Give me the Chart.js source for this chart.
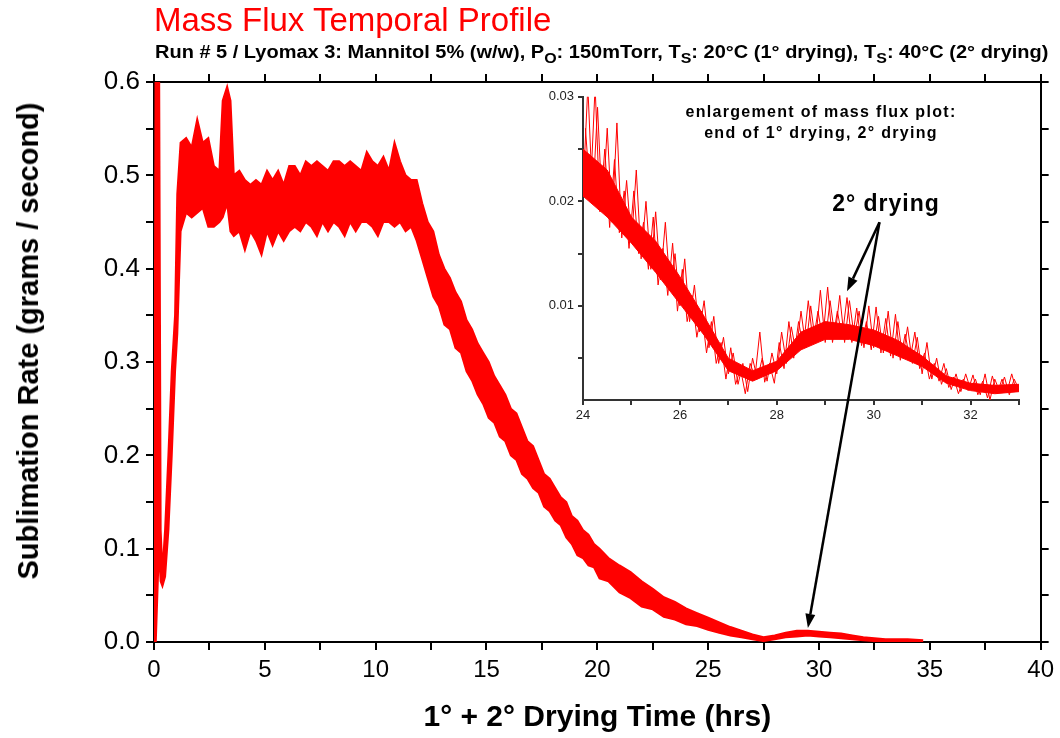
<!DOCTYPE html>
<html>
<head>
<meta charset="utf-8">
<script src="https://cdn.jsdelivr.net/npm/chart.js@4.4.1/dist/chart.umd.min.js"></script>
<style>
  body { margin: 0; background: #fff; }
  #wrap { position: relative; width: 1060px; height: 738px; overflow: hidden; font-family: 'Liberation Sans', Arial, sans-serif; }
  canvas { position: absolute; }
  #main { left: 0; top: 0; }
  #inset { left: 520px; top: 85px; }
  #overlay { left: 0; top: 0; pointer-events: none; }
  .txt { position: absolute; white-space: nowrap; color: #000; }
  #title { left: 154px; top: 3px; font-size: 33px; line-height: 34px; color: #ff0000; }
  #subtitle { left: 155px; top: 42px; font-size: 18px; line-height: 20px; font-weight: bold; transform-origin: 0 50%; }
  #subtitle sub { font-size: 80%; vertical-align: -0.35em; line-height: 0; }
  #ytitle { left: 28px; top: 341px; transform: translate(-50%, -50%) rotate(-90deg);
            font-size: 29px; line-height: 34px; font-weight: bold; }
  #note { left: 821px; top: 101px; transform: translateX(-50%); text-align: center;
          font-size: 16px; line-height: 21px; font-weight: bold; letter-spacing: 1.3px; }
  #drying { left: 886px; top: 189px; transform: translateX(-50%); font-size: 23px; line-height: 28px;
            font-weight: bold; letter-spacing: 1px; }
</style>
</head>
<body>
<div id="wrap">
  <canvas id="main" width="1060" height="738"></canvas>
  <canvas id="inset" width="510" height="340"></canvas>
  <canvas id="overlay" width="1060" height="738"></canvas>
  <div class="txt" id="title">Mass Flux Temporal Profile</div>
  <div class="txt" id="subtitle">Run # 5 / Lyomax 3: Mannitol 5% (w/w), P<sub>O</sub>: 150mTorr, T<sub>S</sub>: 20°C (1° drying), T<sub>S</sub>: 40°C (2° drying)</div>
  <div class="txt" id="ytitle">Sublimation Rate (grams / second)</div>
  <div class="txt" id="note">enlargement of mass flux plot:<br>end of 1° drying, 2° drying</div>
  <div class="txt" id="drying">2° drying</div>
</div>
<script>
// Données : bande de bruit (haut / bas) du flux massique
const mainTimes = [0, 0.08, 0.22, 0.3, 0.38, 0.5, 0.65, 0.8, 0.95, 1.05,
  1.2, 1.45, 1.7, 1.95, 2.2, 2.45, 2.7, 2.95, 3.1, 3.3,
  3.45, 3.6, 3.85, 4.1, 4.35, 4.6, 4.85, 5.1, 5.35, 5.6,
  5.85, 6.1, 6.35, 6.6, 6.85, 7.1, 7.35, 7.6, 7.85, 8.1,
  8.35, 8.6, 8.85, 9.1, 9.35, 9.6, 9.85, 10.1, 10.35, 10.6,
  10.85, 11.1, 11.35, 11.6, 11.85, 12.1, 12.35, 12.6, 12.85, 13.1,
  13.35, 13.6, 13.85, 14.1, 14.35, 14.6, 14.85, 15.1, 15.35, 15.6,
  15.85, 16.1, 16.35, 16.6, 16.85, 17.1, 17.35, 17.6, 17.85, 18.1,
  18.35, 18.6, 18.85, 19.1, 19.35, 19.6, 19.85, 20.1, 20.5, 21,
  21.5, 22, 22.5, 23, 23.5, 24, 24.5, 25, 25.5, 26,
  26.5, 27, 27.5, 28, 28.5, 29, 29.5, 30, 30.5, 31,
  31.5, 32, 32.5, 33, 33.5, 34, 34.7];

const mainUpper = [0, 0.7, 0.7, 0.12, 0.075, 0.12, 0.2, 0.29, 0.35, 0.48,
  0.535, 0.54, 0.53, 0.56, 0.535, 0.54, 0.51, 0.505, 0.58, 0.595,
  0.58, 0.5, 0.505, 0.495, 0.49, 0.495, 0.49, 0.505, 0.495, 0.505,
  0.49, 0.51, 0.51, 0.5, 0.515, 0.51, 0.515, 0.51, 0.505, 0.515,
  0.515, 0.51, 0.515, 0.51, 0.505, 0.525, 0.515, 0.51, 0.52, 0.505,
  0.535, 0.515, 0.5, 0.495, 0.495, 0.47, 0.45, 0.44, 0.415, 0.4,
  0.39, 0.375, 0.365, 0.345, 0.335, 0.32, 0.31, 0.3, 0.285, 0.275,
  0.265, 0.25, 0.245, 0.23, 0.215, 0.21, 0.195, 0.18, 0.175, 0.165,
  0.155, 0.15, 0.135, 0.13, 0.12, 0.115, 0.105, 0.1, 0.09, 0.082,
  0.075, 0.065, 0.057, 0.048, 0.043, 0.036, 0.031, 0.026, 0.021, 0.016,
  0.012, 0.008, 0.005, 0.007, 0.01, 0.012, 0.012, 0.011, 0.01, 0.009,
  0.007, 0.005, 0.004, 0.003, 0.003, 0.003, 0.002];

const mainLower = [0, 0, 0.1, 0.065, 0.06, 0.07, 0.12, 0.2, 0.29, 0.33,
  0.44, 0.46, 0.455, 0.46, 0.465, 0.445, 0.445, 0.45, 0.455, 0.47,
  0.44, 0.435, 0.44, 0.42, 0.44, 0.43, 0.415, 0.44, 0.425, 0.44,
  0.43, 0.44, 0.445, 0.44, 0.45, 0.445, 0.435, 0.45, 0.44, 0.45,
  0.445, 0.435, 0.45, 0.44, 0.45, 0.45, 0.445, 0.435, 0.45, 0.45,
  0.445, 0.45, 0.44, 0.445, 0.43, 0.41, 0.39, 0.37, 0.36, 0.34,
  0.335, 0.315, 0.31, 0.29, 0.28, 0.265, 0.255, 0.24, 0.235, 0.22,
  0.215, 0.2, 0.195, 0.18, 0.175, 0.165, 0.16, 0.145, 0.14, 0.13,
  0.125, 0.112, 0.105, 0.093, 0.09, 0.082, 0.08, 0.068, 0.065, 0.053,
  0.047, 0.038, 0.035, 0.027, 0.024, 0.019, 0.017, 0.013, 0.01, 0.007,
  0.005, 0.003, 0.001, 0.003, 0.005, 0.006, 0.007, 0.006, 0.005, 0.004,
  0.003, 0.002, 0.001, 0.001, 0.001, 0.001, 0];

const mainXTicks = [0, 2.5, 5, 7.5, 10, 12.5, 15, 17.5, 20, 22.5, 25, 27.5, 30, 32.5, 35, 37.5, 40];
const mainYTicks = [0, 0.05, 0.1, 0.15, 0.2, 0.25, 0.3, 0.35, 0.4, 0.45, 0.5, 0.55, 0.6];

// Agrandissement (24 h - 33 h) : deux traces brutes décalées + coeur de la bande
const insetTimes = [24.0, 24.1, 24.2, 24.3, 24.4, 24.5, 24.6, 24.7, 24.8, 24.9,
  25.0, 25.1, 25.2, 25.3, 25.4, 25.5, 25.6, 25.7, 25.8, 25.9,
  26.0, 26.1, 26.2, 26.3, 26.4, 26.5, 26.6, 26.7, 26.8, 26.9,
  27.0, 27.1, 27.2, 27.3, 27.4, 27.5, 27.6, 27.7, 27.8, 27.9,
  28.0, 28.1, 28.2, 28.3, 28.4, 28.5, 28.6, 28.7, 28.8, 28.9,
  29.0, 29.1, 29.2, 29.3, 29.4, 29.5, 29.6, 29.7, 29.8, 29.9,
  30.0, 30.1, 30.2, 30.3, 30.4, 30.5, 30.6, 30.7, 30.8, 30.9,
  31.0, 31.1, 31.2, 31.3, 31.4, 31.5, 31.6, 31.7, 31.8, 31.9,
  32.0, 32.1, 32.2, 32.3, 32.4, 32.5, 32.6, 32.7, 32.8, 32.9,
  33.0];

const insetFlux = [0.021, 0.031, 0.020, 0.029, 0.019, 0.027, 0.018, 0.0275, 0.0165, 0.022,
  0.016, 0.023, 0.0145, 0.020, 0.0135, 0.019, 0.0125, 0.018, 0.0115, 0.015,
  0.010, 0.0145, 0.0085, 0.012, 0.0075, 0.0105, 0.006, 0.009, 0.0045, 0.007,
  0.0035, 0.0055, 0.0025, 0.0045, 0.0018, 0.005, 0.003, 0.005, 0.0028, 0.0055,
  0.0035, 0.0075, 0.0045, 0.008, 0.0055, 0.0095, 0.006, 0.010, 0.0065, 0.0115,
  0.0065, 0.0105, 0.007, 0.011, 0.0065, 0.0105, 0.007, 0.0095, 0.006, 0.010,
  0.006, 0.009, 0.0055, 0.0095, 0.005, 0.0085, 0.005, 0.008, 0.0045, 0.007,
  0.0035, 0.0065, 0.003, 0.005, 0.0025, 0.004, 0.002, 0.0035, 0.0018, 0.0035,
  0.002, 0.003, 0.0015, 0.0035, 0.001, 0.003, 0.0018, 0.0032, 0.0015, 0.003,
  0.002];

const insetTimes2 = [24.05, 24.15, 24.25, 24.35, 24.45, 24.55, 24.65, 24.75, 24.85, 24.95,
  25.05, 25.15, 25.25, 25.35, 25.45, 25.55, 25.65, 25.75, 25.85, 25.95,
  26.05, 26.15, 26.25, 26.35, 26.45, 26.55, 26.65, 26.75, 26.85, 26.95,
  27.05, 27.15, 27.25, 27.35, 27.45, 27.55, 27.65, 27.75, 27.85, 27.95,
  28.05, 28.15, 28.25, 28.35, 28.45, 28.55, 28.65, 28.75, 28.85, 28.95,
  29.05, 29.15, 29.25, 29.35, 29.45, 29.55, 29.65, 29.75, 29.85, 29.95,
  30.05, 30.15, 30.25, 30.35, 30.45, 30.55, 30.65, 30.75, 30.85, 30.95,
  31.05, 31.15, 31.25, 31.35, 31.45, 31.55, 31.65, 31.75, 31.85, 31.95,
  32.05, 32.15, 32.25, 32.35, 32.45, 32.55, 32.65, 32.75, 32.85, 32.95];

const insetFlux2 = [0.027, 0.0205, 0.031, 0.019, 0.025, 0.0175, 0.024, 0.017, 0.021, 0.0155,
  0.021, 0.015, 0.018, 0.0135, 0.0185, 0.012, 0.0155, 0.011, 0.016, 0.0095,
  0.0135, 0.0085, 0.011, 0.007, 0.0095, 0.0055, 0.0085, 0.0045, 0.0065, 0.003,
  0.006, 0.0025, 0.004, 0.0016, 0.0045, 0.0032, 0.0075, 0.0027, 0.0045, 0.0026,
  0.0065, 0.004, 0.0085, 0.005, 0.0085, 0.006, 0.0105, 0.0065, 0.0095, 0.0068,
  0.0118, 0.0065, 0.0095, 0.007, 0.0108, 0.0065, 0.0098, 0.0062, 0.0085, 0.0058,
  0.0099, 0.0055, 0.0088, 0.0052, 0.0092, 0.0048, 0.0073, 0.0048, 0.0075, 0.004,
  0.0055, 0.003, 0.0045, 0.0028, 0.0045, 0.0022, 0.0032, 0.0016, 0.003, 0.0019,
  0.0034, 0.0015, 0.0028, 0.0012, 0.0033, 0.0016, 0.003, 0.0017, 0.0035, 0.0018];

const insetCoreTimes = [24, 24.5, 25, 25.5, 26, 26.5, 27, 27.5, 28, 28.5, 29, 29.5, 30, 30.5, 31, 31.5, 32, 32.5, 33];
const insetCoreLow = [0.0205, 0.0185, 0.016, 0.0132, 0.0102, 0.0072, 0.0038, 0.0028, 0.0038, 0.0058,
  0.0068, 0.0068, 0.0062, 0.0052, 0.0042, 0.0026, 0.0019, 0.0016, 0.0018];
const insetCoreHigh = [0.025, 0.023, 0.0185, 0.0162, 0.0128, 0.009, 0.005, 0.0038, 0.0047, 0.0075,
  0.0085, 0.0082, 0.0077, 0.0067, 0.0052, 0.0033, 0.0026, 0.0024, 0.0025];

const insetXTicks = [24, 25, 26, 27, 28, 29, 30, 31, 32, 33];
const insetYTicks = [0.005, 0.01, 0.015, 0.02, 0.025, 0.03];

const ROUGE = '#ff0000';

function points(xs, ys) {
  return xs.map((x, i) => ({ x: x, y: ys[i] }));
}

function fixTicks(liste) {
  return scale => { scale.ticks = liste.map(v => ({ value: v })); };
}

// Axe "miroir" (haut / droite) : seulement les graduations
function axeMiroir(axis, position, min, max, ticks, taille) {
  return {
    type: 'linear', axis: axis, position: position, min: min, max: max,
    afterBuildTicks: fixTicks(ticks),
    afterFit: s => { if (axis === 'x') s.height = taille; else s.width = taille; },
    ticks: { display: false },
    grid: { drawOnChartArea: false, drawTicks: true, tickLength: 8, color: '#000', lineWidth: 2 },
    border: { display: true, color: '#000', width: 2 }
  };
}

Chart.defaults.font.family = "'Liberation Sans', Arial, sans-serif";

// Sous-titre : même largeur que la figure d'origine
const sousTitre = document.getElementById('subtitle');
sousTitre.style.transform = 'scaleX(' + (893 / sousTitre.offsetWidth) + ')';

const mainChart = new Chart(document.getElementById('main'), {
  type: 'line',
  data: {
    datasets: [
      { data: points(mainTimes, mainUpper), borderColor: ROUGE, borderWidth: 2, pointRadius: 0, fill: false },
      { data: points(mainTimes, mainLower), borderColor: ROUGE, borderWidth: 2, pointRadius: 0,
        fill: '-1', backgroundColor: ROUGE }
    ]
  },
  options: {
    responsive: false,
    animation: false,
    devicePixelRatio: 1,
    layout: { padding: { left: 0, top: 74, right: 6, bottom: 0 } },
    plugins: { legend: { display: false }, tooltip: { enabled: false } },
    scales: {
      x: {
        type: 'linear', position: 'bottom', min: 0, max: 40,
        afterBuildTicks: fixTicks(mainXTicks),
        afterFit: s => { s.height = 96; },
        ticks: {
          color: '#000', padding: 6, maxRotation: 0, autoSkip: false,
          font: { size: 24 },
          callback: v => (v % 5 === 0 ? String(v) : '')
        },
        grid: { drawOnChartArea: false, drawTicks: true, tickLength: 8, color: '#000', lineWidth: 2 },
        border: { display: true, color: '#000', width: 2 },
        title: {
          display: true, text: '1° + 2° Drying Time (hrs)', color: '#000',
          font: { size: 30, weight: 'bold' }, padding: { top: 0, bottom: 2 }
        }
      },
      y: {
        type: 'linear', position: 'left', min: 0, max: 0.6,
        afterBuildTicks: fixTicks(mainYTicks),
        afterFit: s => { s.width = 154; },
        ticks: {
          color: '#000', padding: 6, autoSkip: false,
          font: { size: 26 },
          callback: v => (Math.abs(v * 10 - Math.round(v * 10)) < 1e-6 ? v.toFixed(1) : '')
        },
        grid: { drawOnChartArea: false, drawTicks: true, tickLength: 8, color: '#000', lineWidth: 2 },
        border: { display: true, color: '#000', width: 2 }
      },
      xHaut: axeMiroir('x', 'top', 0, 40, mainXTicks, 8),
      yDroite: axeMiroir('y', 'right', 0, 0.6, mainYTicks, 8)
    }
  }
});

const insetChart = new Chart(document.getElementById('inset'), {
  type: 'line',
  data: {
    datasets: [
      { data: points(insetCoreTimes, insetCoreHigh), borderColor: ROUGE, borderWidth: 1, pointRadius: 0, fill: false },
      { data: points(insetCoreTimes, insetCoreLow), borderColor: ROUGE, borderWidth: 1, pointRadius: 0,
        fill: '-1', backgroundColor: ROUGE },
      { data: points(insetTimes, insetFlux), borderColor: ROUGE, borderWidth: 1, pointRadius: 0, fill: false },
      { data: points(insetTimes2, insetFlux2), borderColor: ROUGE, borderWidth: 1, pointRadius: 0, fill: false }
    ]
  },
  options: {
    responsive: false,
    animation: false,
    devicePixelRatio: 1,
    layout: { padding: { left: 0, top: 10, right: 11, bottom: 0 } },
    plugins: { legend: { display: false }, tooltip: { enabled: false } },
    scales: {
      x: {
        type: 'linear', min: 24, max: 33,
        afterBuildTicks: fixTicks(insetXTicks),
        afterFit: s => { s.height = 25; },
        ticks: {
          color: '#222', padding: 3, maxRotation: 0, autoSkip: false, font: { size: 13 },
          callback: v => (v % 2 === 0 ? String(v) : '')
        },
        grid: { drawOnChartArea: false, drawTicks: true, tickLength: 5, color: '#333', lineWidth: 2 },
        border: { display: true, color: '#333', width: 2 }
      },
      y: {
        type: 'linear', min: 0.001, max: 0.03,
        afterBuildTicks: fixTicks(insetYTicks),
        afterFit: s => { s.width = 63; },
        ticks: {
          color: '#222', padding: 4, autoSkip: false, font: { size: 13 },
          callback: v => (Math.abs(v * 100 - Math.round(v * 100)) < 1e-6 ? v.toFixed(2) : '')
        },
        grid: { drawOnChartArea: false, drawTicks: true, tickLength: 5, color: '#333', lineWidth: 2 },
        border: { display: true, color: '#333', width: 2 }
      }
    }
  }
});

// Flèches "2° drying" : positions prises sur les échelles des deux graphiques
function fleche(ctx, x0, y0, x1, y1) {
  const ang = Math.atan2(y1 - y0, x1 - x0);
  const longueur = 14, demi = 5;
  const bx = x1 - longueur * Math.cos(ang);
  const by = y1 - longueur * Math.sin(ang);
  ctx.beginPath();
  ctx.moveTo(x0, y0);
  ctx.lineTo(bx, by);
  ctx.stroke();
  ctx.beginPath();
  ctx.moveTo(x1, y1);
  ctx.lineTo(bx + demi * Math.sin(ang), by - demi * Math.cos(ang));
  ctx.lineTo(bx - demi * Math.sin(ang), by + demi * Math.cos(ang));
  ctx.closePath();
  ctx.fill();
}

function dessinerFleches() {
  const ctx = document.getElementById('overlay').getContext('2d');
  const ix = insetChart.scales.x, iy = insetChart.scales.y;
  const mx = mainChart.scales.x, my = mainChart.scales.y;
  const dx = 520, dy = 85;
  const x0 = ix.getPixelForValue(30.12) + dx, y0 = iy.getPixelForValue(0.018) + dy;
  ctx.strokeStyle = '#000';
  ctx.fillStyle = '#000';
  ctx.lineWidth = 2.5;
  fleche(ctx, x0, y0, ix.getPixelForValue(29.45) + dx, iy.getPixelForValue(0.0114) + dy);
  fleche(ctx, x0, y0, mx.getPixelForValue(29.5), my.getPixelForValue(0.015));
}

dessinerFleches();
</script>
</body>
</html>
